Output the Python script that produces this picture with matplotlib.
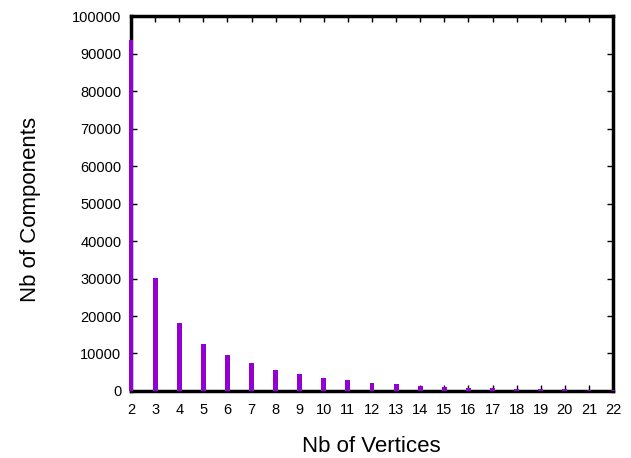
import matplotlib
matplotlib.use("Agg")
import matplotlib.pyplot as plt

vertices = list(range(2, 23))
components = [93600, 30200, 18200, 12450, 9600, 7400, 5500, 4450, 3480, 2850,
              2220, 1780, 1330, 1070, 890, 710, 620, 530, 440, 350, 300]
xticks = list(range(2, 23))
yticks = list(range(0, 100001, 10000))

plt.rcParams['font.family'] = ['Liberation Sans', 'DejaVu Sans']
fig = plt.figure(figsize=(6.31, 4.58), dpi=100)
ax = fig.add_axes([0.2076, 0.1463, 0.9715 - 0.2076, 0.965 - 0.1463])
ax.bar(vertices, components, width=0.2, color='#9400D3', align='center',
       zorder=3, clip_on=False)
ax.set_xlim(2, 22)
ax.set_ylim(0, 100000)
ax.set_xticks(xticks)
ax.set_yticks(yticks)
ax.tick_params(direction='in', top=True, right=True, length=4, width=1,
               labelsize=10.5, pad=9)
ax.tick_params(axis='y', pad=7)
for s in ax.spines.values():
    s.set_linewidth(2.5)
    s.set_zorder(2.5)
ax.set_xlabel('Nb of Vertices', fontsize=16, va='center')
ax.set_ylabel('Nb of Components', fontsize=16, va='center')
ax.xaxis.set_label_coords(0.498, -0.147)
ax.yaxis.set_label_coords(-0.2095, 0.483)
fig.savefig('out.png', dpi=100)
